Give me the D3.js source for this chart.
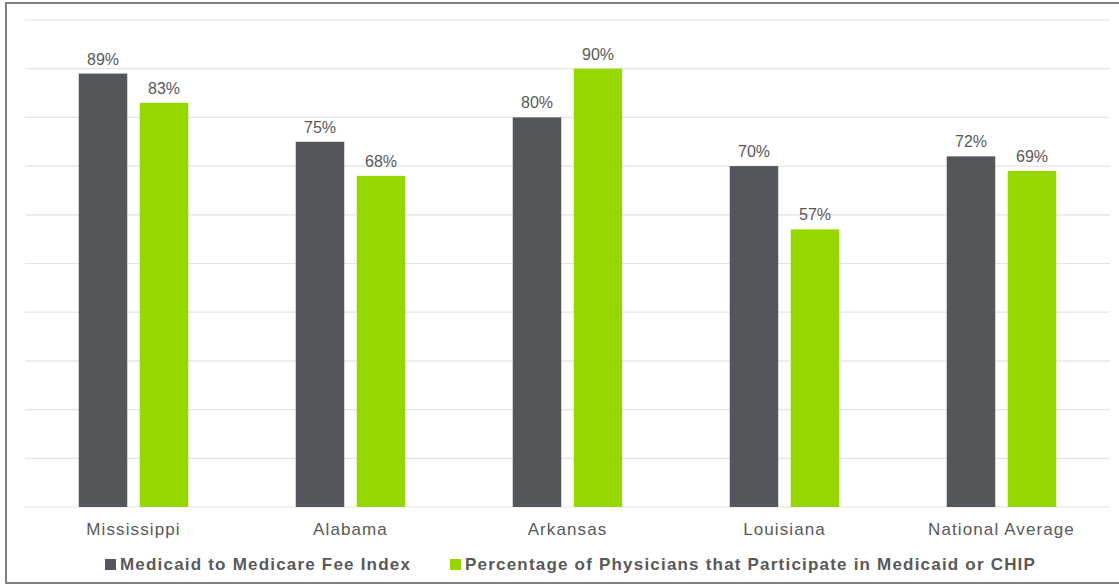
<!DOCTYPE html>
<html>
<head>
<meta charset="utf-8">
<script src="https://cdn.jsdelivr.net/npm/d3@7/dist/d3.min.js"></script>
<style>
  html, body { margin: 0; padding: 0; background: #fff; }
  svg { display: block; font-family: "Liberation Sans", Arial, sans-serif; }
</style>
</head>
<body>
<svg id="chart" width="1119" height="586"></svg>
<script>
// Chart data
const categories = ["Mississippi", "Alabama", "Arkansas", "Louisiana", "National Average"];
const seriesNames = ["Medicaid to Medicare Fee Index", "Percentage of Physicians that Participate in Medicaid or CHIP"];
const feeIndex = [89, 75, 80, 70, 72];
const participation = [83, 68, 90, 57, 69];
const seriesColors = ["#53565A", "#97D700"];
const gridTicks = [0, 10, 20, 30, 40, 50, 60, 70, 80, 90, 100];

const series = [feeIndex, participation];

const svg = d3.select("#chart");
const W = 1119;

// Outer frame
svg.append("rect")
  .attr("x", 6).attr("y", 3)
  .attr("width", W + 10).attr("height", 580)
  .attr("fill", "#fff")
  .attr("stroke", "#7f7f7f")
  .attr("stroke-width", 2);

const plot = { left: 25, right: 1110, top: 20, bottom: 507 };

const x = d3.scaleBand()
  .domain(categories)
  .range([plot.left, plot.right])
  .paddingInner(0).paddingOuter(0);

const y = d3.scaleLinear()
  .domain([0, 100])
  .range([plot.bottom, plot.top]);

const barW = 48.5, gap = 12.5;

// Horizontal gridlines
svg.append("g")
  .selectAll("line")
  .data(gridTicks)
  .join("line")
  .attr("x1", plot.left).attr("x2", plot.right)
  .attr("y1", d => y(d)).attr("y2", d => y(d))
  .attr("stroke", "#e4e4e4")
  .attr("stroke-width", 1.2);

// Bars with value labels, one group per category
const groups = svg.append("g")
  .selectAll("g")
  .data(categories)
  .join("g")
  .attr("transform", d => `translate(${x(d) + (x.bandwidth() - (barW * 2 + gap)) / 2},0)`);

groups.each(function (cat, ci) {
  const g = d3.select(this);
  series.forEach((vals, si) => {
    const bx = si * (barW + gap);
    g.append("rect")
      .attr("x", bx)
      .attr("y", y(vals[ci]))
      .attr("width", barW)
      .attr("height", y(0) - y(vals[ci]))
      .attr("fill", seriesColors[si]);
    g.append("text")
      .attr("x", bx + barW / 2)
      .attr("y", y(vals[ci]) - 9)
      .attr("text-anchor", "middle")
      .attr("font-size", 16)
      .attr("fill", "#595959")
      .text(vals[ci] + "%");
  });
});

// Category axis labels
const xAxis = d3.axisBottom(x).tickSize(0).tickPadding(0);
const axisG = svg.append("g")
  .attr("transform", `translate(0,${plot.bottom})`)
  .call(xAxis);
axisG.select(".domain").remove();
axisG.selectAll("text")
  .attr("dy", null)
  .attr("y", 28)
  .attr("font-size", 17)
  .attr("font-family", "Liberation Sans, Arial, sans-serif")
  .attr("letter-spacing", 1.1)
  .attr("fill", "#595959");

// Legend
const legendItems = [
  { name: seriesNames[0], color: seriesColors[0], sx: 105, tx: 120 },
  { name: seriesNames[1], color: seriesColors[1], sx: 450, tx: 465 }
];
const legend = svg.append("g");
legendItems.forEach(it => {
  legend.append("rect")
    .attr("x", it.sx).attr("y", 559)
    .attr("width", 11).attr("height", 11)
    .attr("fill", it.color);
  legend.append("text")
    .attr("x", it.tx).attr("y", 570)
    .attr("font-size", 17)
    .attr("font-weight", "bold")
    .attr("letter-spacing", 1.2)
    .attr("fill", "#595959")
    .text(it.name);
});
</script>
</body>
</html>
